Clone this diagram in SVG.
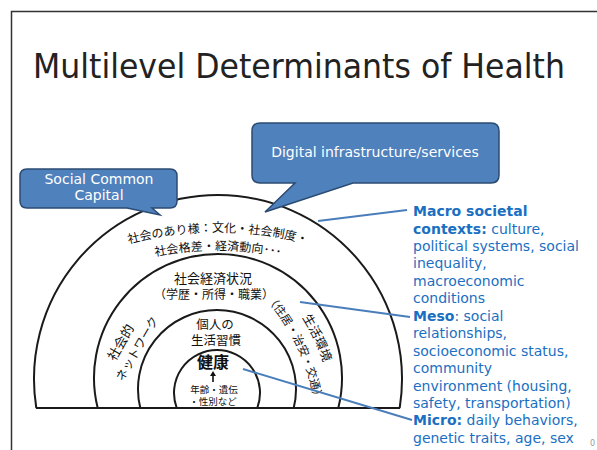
<svg xmlns="http://www.w3.org/2000/svg" width="597" height="450" viewBox="0 0 597 450">
<style>
.frame{fill:none;stroke:#333;stroke-width:1.5}
.ring{fill:none;stroke:#1a1a1a;stroke-width:2}
.call{fill:#4F81BD;stroke:#2B4B72;stroke-width:1.5}
.ct{font-family:"DejaVu Sans",Verdana,sans-serif;font-size:14px;fill:#fff;text-anchor:middle}
.jp{font-family:"Noto Sans CJK JP",sans-serif;fill:#111;text-anchor:middle}
.conn{stroke:#4A7EBB;stroke-width:2;fill:none}
.lbl{font-family:"DejaVu Sans",Verdana,sans-serif;font-size:14px;fill:#1A6FC2}
.b{font-weight:bold}
</style>
<defs>
<path id="tp1" d="M -3.1 312.6 A 344 344 0 0 1 439.1 312.6"/>
<path id="tp2" d="M 8.4 326.3 A 327 327 0 0 1 427.6 326.3"/>
<path id="tp3" d="M 226.15 243.94 A 217.5 217.5 0 0 1 332 467.8"/>
<path id="tp4" d="M 216.95 259.8 A 199.1 199.1 0 0 1 313.8 464.8"/>
</defs>
<rect width="597" height="450" fill="#fff"/>
<path class="frame" d="M 597 11.5 H 11.5 V 450"/>
<text x="33" y="78" font-family="DejaVu Sans,Verdana,sans-serif" font-size="33" fill="#222" textLength="532" lengthAdjust="spacingAndGlyphs">Multilevel Determinants of Health</text>

<g id="rings">
<path class="ring" d="M 36.3 408 A 184 184 0 1 1 399.7 408"/>
<path class="ring" d="M 97.7 408 A 124 124 0 1 1 338.3 408"/>
<path class="ring" d="M 140.3 408 A 79 79 0 1 1 293.7 408"/>
<path class="ring" d="M 176.7 408 A 43 43 0 1 1 257.3 408"/>
<path class="ring" d="M 36 408 H 400"/>
</g>

<g id="macro-ring">
<text class="jp" font-size="12"><textPath href="#tp1" startOffset="50%">社会のあり様：文化・社会制度・</textPath></text>
<text class="jp" font-size="12"><textPath href="#tp2" startOffset="50%">社会格差・経済動向･･･</textPath></text>
</g>

<g id="meso-ring">
<text class="jp" font-size="13" x="213" y="283">社会経済状況</text>
<text class="jp" font-size="12" x="214" y="299">（学歴・所得・職業）</text>
<text class="jp" font-size="13" dominant-baseline="central" transform="translate(120,342) rotate(-60)">社会的</text>
<text class="jp" font-size="12" dominant-baseline="central" transform="translate(136,348) rotate(-60)">ネットワーク</text>
<text class="jp" font-size="12.5"><textPath href="#tp3" startOffset="50%">生活環境</textPath></text>
<text class="jp" font-size="11.5"><textPath href="#tp4" startOffset="50%">（住居・治安・交通）</textPath></text>
</g>

<g id="lifestyle-ring">
<text class="jp" font-size="12.5" x="215" y="329">個人の</text>
<text class="jp" font-size="12.5" x="216" y="345">生活習慣</text>
</g>

<g id="health-core">
<text class="jp" font-size="16" font-weight="bold" x="213" y="368">健康</text>
<path d="M 213 382 V 375" stroke="#111" stroke-width="1.6"/>
<path d="M 210 376 L 213 371 L 216 376 Z" fill="#111"/>
<text class="jp" font-size="9.5" x="214" y="393">年齢・遺伝</text>
<text class="jp" font-size="9.5" x="213" y="405">・性別など</text>
</g>

<g id="social-common-capital">
<path class="call" d="M 27 169 H 170 Q 177 169 177 176 V 201 Q 177 208 170 208 H 152 L 160 215 L 127 208 H 27 Q 20 208 20 201 V 176 Q 20 169 27 169 Z"/>
<text class="ct" x="99" y="184">Social Common</text>
<text class="ct" x="99" y="200">Capital</text>
</g>

<g id="digital">
<path class="call" d="M 260 123 H 491 Q 499 123 499 131 V 175 Q 499 183 491 183 H 353 L 265 212 L 295 183 H 260 Q 252 183 252 175 V 131 Q 252 123 260 123 Z"/>
<text class="ct" x="375" y="157">Digital infrastructure/services</text>
</g>

<g id="connectors">
<path class="conn" d="M 318 221 L 407 210"/>
<path class="conn" d="M 300 302 L 410 317"/>
<path class="conn" d="M 243 369 L 412 420"/>
</g>

<g id="labels">
<text class="lbl" x="413">
<tspan x="413" y="216" class="b">Macro societal</tspan>
<tspan x="413" y="233.5"><tspan class="b">contexts:</tspan> culture,</tspan>
<tspan x="413" y="250.9">political systems, social</tspan>
<tspan x="413" y="268.4">inequality,</tspan>
<tspan x="413" y="285.8">macroeconomic</tspan>
<tspan x="413" y="303.3">conditions</tspan>
<tspan x="413" y="320.7"><tspan class="b">Meso</tspan>: social</tspan>
<tspan x="413" y="338.2">relationships,</tspan>
<tspan x="413" y="355.6">socioeconomic status,</tspan>
<tspan x="413" y="373.1">community</tspan>
<tspan x="413" y="390.5">environment (housing,</tspan>
<tspan x="413" y="408">safety, transportation)</tspan>
<tspan x="413" y="425.4"><tspan class="b">Micro:</tspan> daily behaviors,</tspan>
<tspan x="413" y="442.9">genetic traits, age, sex</tspan>
</text>
</g>
<text x="590" y="446" font-family="DejaVu Sans,sans-serif" font-size="8" fill="#999">0</text>
</svg>
